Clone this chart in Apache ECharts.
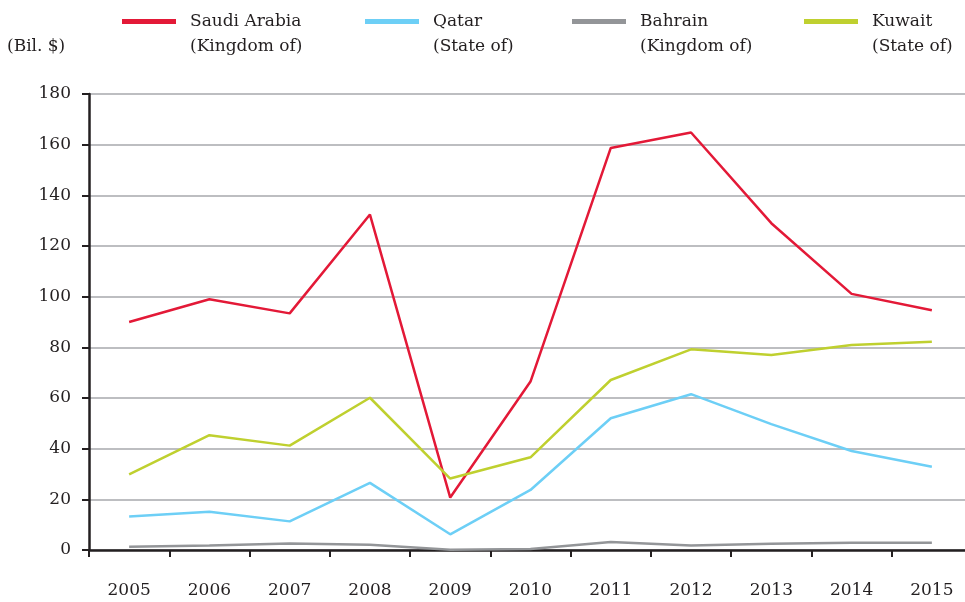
<!DOCTYPE html>
<html>
<head>
<meta charset="utf-8">
<title>Bil. $</title>
<script src="https://cdn.jsdelivr.net/npm/echarts@6/dist/echarts.min.js"></script>
<style>
    html, body { margin: 0; padding: 0; background: #fff; }
    #container { width: 965px; height: 602px; }
</style>
</head>
<body>
<div id="container"></div>
<script>
// years on the x axis
var years = ['2005', '2006', '2007', '2008', '2009', '2010', '2011', '2012', '2013', '2014', '2015'];
// y axis ticks
var yTicks = [0, 20, 40, 60, 80, 100, 120, 140, 160, 180];
// series names (two lines, as in the legend)
var seriesNames = ['Saudi Arabia\n(Kingdom of)', 'Qatar\n(State of)', 'Bahrain\n(Kingdom of)', 'Kuwait\n(State of)'];
// values, bil. $
var saudiArabia = [90.0, 99.0, 93.4, 132.4, 20.7, 66.5, 158.7, 164.8, 129.0, 101.1, 94.6];
var qatar = [13.2, 15.1, 11.3, 26.5, 6.2, 23.7, 52.0, 61.5, 49.7, 39.1, 32.9];
var bahrain = [1.3, 1.8, 2.6, 2.1, 0.1, 0.4, 3.2, 1.8, 2.5, 2.9, 2.9];
var kuwait = [29.9, 45.3, 41.2, 60.1, 28.2, 36.6, 67.1, 79.2, 77.0, 80.9, 82.2];

var colors = ['#e31937', '#6dcff6', '#939598', '#bfd02f'];
var fontName = 'DejaVu Serif';
var textColor = '#231f20';

var chart = echarts.init(document.getElementById('container'));

function makeLegend(name, left) {
    return {
        data: [name],
        left: left,
        top: -21,
        itemWidth: 54,
        itemHeight: 5,
        icon: 'rect',
        selectedMode: false,
        // empty first line so the icon sits beside the first text line
        formatter: function (n) {
            return '\n' + n;
        },
        textStyle: {
            fontFamily: fontName,
            fontSize: 17,
            color: textColor,
            lineHeight: 25,
            padding: [0, 0, 0, 9]
        }
    };
}

function makeSeries(name, data, color) {
    return {
        name: name,
        type: 'line',
        data: data,
        symbol: 'none',
        smooth: false,
        color: color,
        lineStyle: { color: color, width: 2.5 }
    };
}

var option = {
    animation: false,
    backgroundColor: '#fff',
    title: {
        text: '(Bil. $)',
        left: 2,
        top: 33,
        textStyle: { fontFamily: fontName, fontSize: 17, fontWeight: 'normal', color: textColor }
    },
    legend: [
        makeLegend(seriesNames[0], 117),
        makeLegend(seriesNames[1], 360),
        makeLegend(seriesNames[2], 567),
        makeLegend(seriesNames[3], 799)
    ],
    // axis runs a little past the right edge, as in the original
    grid: { left: 89, width: 883, top: 94, bottom: 52, containLabel: false, outerBoundsMode: 'none' },
    xAxis: {
        type: 'category',
        data: years,
        boundaryGap: true,
        axisLine: { lineStyle: { color: textColor, width: 2.5 } },
        axisTick: { show: true, length: 7, lineStyle: { color: textColor, width: 2 } },
        axisLabel: { margin: 32, fontFamily: fontName, fontSize: 17, color: textColor },
        splitLine: { show: false }
    },
    yAxis: {
        type: 'value',
        min: yTicks[0],
        max: yTicks[yTicks.length - 1],
        interval: 20,
        axisLine: { show: true, lineStyle: { color: textColor, width: 2.5 } },
        axisTick: { show: true, length: 7, lineStyle: { color: textColor, width: 2 } },
        axisLabel: { margin: 18, fontFamily: fontName, fontSize: 17, color: textColor },
        splitLine: { show: true, lineStyle: { color: '#a7a9ac', width: 1.5 } }
    },
    series: [
        makeSeries(seriesNames[0], saudiArabia, colors[0]),
        makeSeries(seriesNames[1], qatar, colors[1]),
        makeSeries(seriesNames[2], bahrain, colors[2]),
        makeSeries(seriesNames[3], kuwait, colors[3])
    ]
};

chart.setOption(option);
</script>
</body>
</html>
